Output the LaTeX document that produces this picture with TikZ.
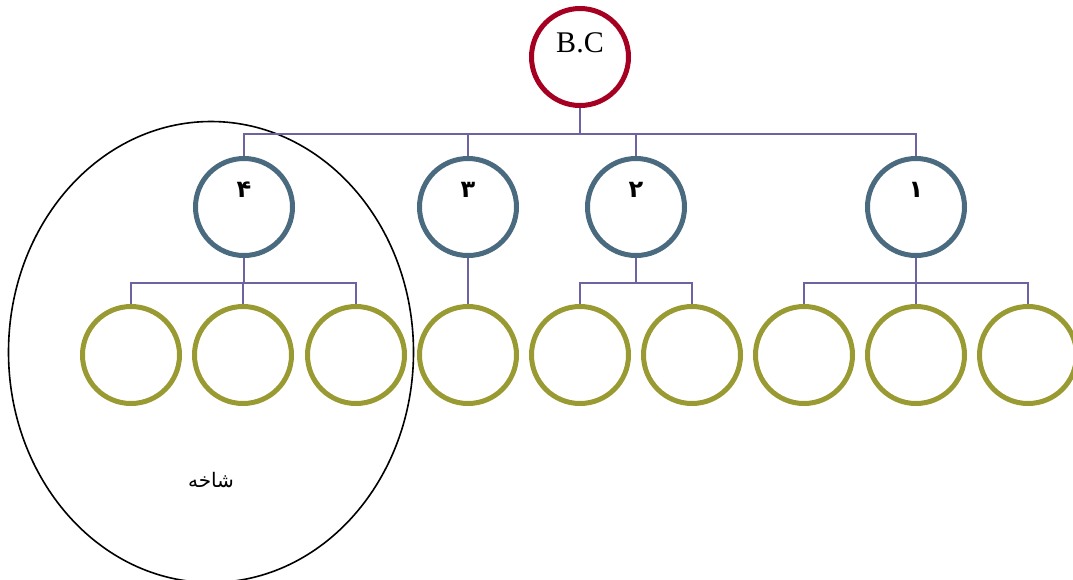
\documentclass[tikz,border=0pt]{standalone}
\usepackage{fontspec}
\setmainfont{Liberation Serif}
\newfontfamily\arabicfont[Script=Arabic]{DejaVu Sans}
\TeXXeTstate=1
\usetikzlibrary{shapes.geometric}

\definecolor{rootred}{HTML}{A50021}
\definecolor{slate}{HTML}{4A6A7F}
\definecolor{olivine}{HTML}{9A9A33}
\definecolor{lilac}{HTML}{6C64A0}

\begin{document}
\begin{tikzpicture}
    [
        x=1pt, y=-1pt,
        disc/.style       = {shape=circle, draw, line width=5pt, minimum size=97pt, inner sep=0pt},
        rootdisc/.style   = {disc, draw=rootred},
        branchdisc/.style = {disc, draw=slate},
        leafdisc/.style   = {disc, draw=olivine},
        bus/.style        = {draw=lilac, line width=1.5pt},
        digit/.style      = {font=\arabicfont\bfseries\fontsize{24}{28}\selectfont, yshift=17pt},
    ]
    \useasboundingbox (0,0) rectangle (1073,579);

    % the branch that is circled
    \node [shape=ellipse, draw, line width=1.6pt, inner sep=0pt,
           minimum width=405pt, minimum height=461pt] (grove) at (211,352) {};
    \node [font=\arabicfont\fontsize{20}{24}\selectfont] (grovename) at (211,480) {\beginR شاخه\endR};

    % root
    \node [rootdisc, label={[font=\fontsize{30}{34}\selectfont, yshift=14pt]center:B.C}] (root) at (580,57) {};

    % first level
    \node [branchdisc, label={[digit]center:\beginR ۴\endR}] (b4) at (244,207) {};
    \node [branchdisc, label={[digit]center:\beginR ۳\endR}] (b3) at (468,207) {};
    \node [branchdisc, label={[digit]center:\beginR ۲\endR}] (b2) at (636,207) {};
    \node [branchdisc, label={[digit]center:\beginR ۱\endR}] (b1) at (916,207) {};

    % leaves
    \foreach \x [count=\i] in {131,243,356,468,580,692,804,916,1028}
        \node [leafdisc] (leaf\i) at (\x,355) {};

    % connectors
    \foreach \b in {b4,b3,b2,b1}
        \draw [bus] (root.south) -- ++(0,26) -| (\b.north);
    \foreach \l in {1,2,3}
        \draw [bus] (b4.south) -- ++(0,25) -| (leaf\l.north);
    \draw [bus] (b3.south) -- (leaf4.north);
    \foreach \l in {5,6}
        \draw [bus] (b2.south) -- ++(0,25) -| (leaf\l.north);
    \foreach \l in {7,8,9}
        \draw [bus] (b1.south) -- ++(0,25) -| (leaf\l.north);
\end{tikzpicture}
\end{document}
